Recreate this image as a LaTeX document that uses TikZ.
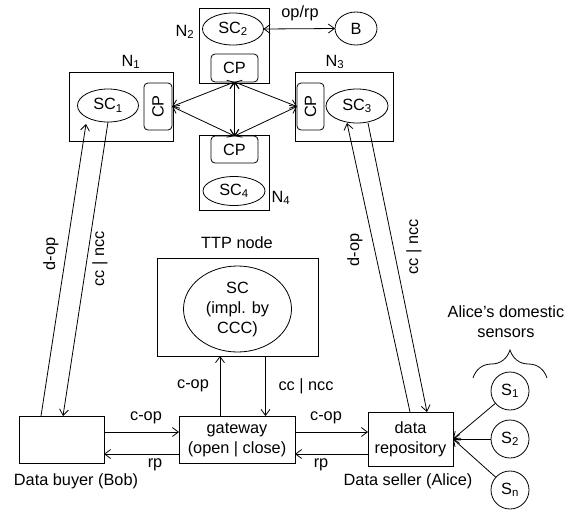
\documentclass[tikz,border=0pt]{standalone}
\usepackage{fontspec}
\setmainfont{Liberation Sans}
\usepackage{graphicx}
\usetikzlibrary{shapes.geometric,arrows.meta,decorations.pathreplacing}
\tikzset{
  base/.style={inner sep=0pt, outer sep=0pt, font=\fontsize{16.3}{20}\selectfont},
  box/.style={base, draw, rectangle},
  ell/.style={base, draw, ellipse},
  cpbox/.style={base, draw, rectangle, rounded corners=4pt},
  txt/.style={base},
  circ/.style={base, draw, circle, minimum size=38pt},
  conn/.style={line width=0.8pt, -{Straight Barb[length=6pt,width=9pt]}},
  dconn/.style={line width=0.8pt, {Straight Barb[length=6pt,width=9pt]}-{Straight Barb[length=6pt,width=9pt]}},
  plain/.style={line width=0.8pt},
}
\begin{document}
\begin{tikzpicture}[x=1pt,y=-1pt, line width=0.8pt]
\useasboundingbox (0,0) rectangle (579,515);
% blockchain nodes
\node[box, minimum width=104pt, minimum height=69pt] (N1) at (121,106.5) {};
\node[box, minimum width=70pt, minimum height=75pt] (N2) at (234,45.5) {};
\node[box, minimum width=98pt, minimum height=69pt] (N3) at (344,106.5) {};
\node[box, minimum width=70pt, minimum height=75pt] (N4) at (234,172.5) {};
\node[txt] (N1l) at (131,62) {N\textsubscript{1}};
\node[txt] (N2l) at (185,32) {N\textsubscript{2}};
\node[txt] (N3l) at (335,62) {N\textsubscript{3}};
\node[txt] (N4l) at (281,198) {N\textsubscript{4}};
\node[ell, minimum width=61pt, minimum height=33pt] (SC1) at (108,105.5) {SC\textsubscript{1}};
\node[ell, minimum width=61pt, minimum height=32pt] (SC2) at (233,29) {SC\textsubscript{2}};
\node[ell, minimum width=62pt, minimum height=34pt] (SC3) at (357,106) {SC\textsubscript{3}};
\node[ell, minimum width=62pt, minimum height=29pt] (SC4) at (234,191) {SC\textsubscript{4}};
\node[cpbox, minimum width=28pt, minimum height=47pt] (CP1) at (158,106.5) {\rotatebox{90}{CP}};
\node[cpbox, minimum width=47pt, minimum height=28pt] (CP2) at (234.5,68) {CP};
\node[cpbox, minimum width=27pt, minimum height=47pt] (CP3) at (310.5,106.5) {\rotatebox{90}{CP}};
\node[cpbox, minimum width=47pt, minimum height=27pt] (CP4) at (234.5,149.5) {CP};
\node[ell, minimum width=42pt, minimum height=33pt] (B) at (356,28.5) {B};
\draw[dconn] (SC2.east) -- (B.west);
\node[txt] (oprp) at (300,13) {op/rp};
\draw[dconn] (CP2.south) -- (CP1.east);
\draw[dconn] (CP2.south) -- (CP3.west);
\draw[dconn] (CP2.south) -- (CP4.north);
\draw[dconn] (CP4.north) -- (CP1.east);
\draw[dconn] (CP4.north) -- (CP3.west);
% TTP
\node[txt] (TTPl) at (237,243) {TTP node};
\node[box, minimum width=161pt, minimum height=98pt] (TTP) at (237.5,307) {};
\node[ell, minimum width=108pt, minimum height=86pt, align=center] (SC) at (237.5,309) {SC\\(impl. by\\CCC)};
% bottom row
\node[box, minimum width=85pt, minimum height=47pt] (Bob) at (61.5,439.5) {};
\node[box, minimum width=116pt, minimum height=47pt, align=center] (gw) at (237,439.5) {gateway\\(open | close)};
\node[box, minimum width=85pt, minimum height=54pt, align=center] (repo) at (410.5,439) {data\\repository};
\node[txt] (Bobl) at (76,481) {Data buyer (Bob)};
\node[txt] (Alicel) at (408,481) {Data seller (Alice)};
\draw[conn] ([yshift=7.5pt]Bob.east) -- ([yshift=7.5pt]gw.west);
\draw[conn] ([yshift=-14.5pt]gw.west) -- ([yshift=-14.5pt]Bob.east);
\draw[conn] ([yshift=7.5pt]gw.east) -- ([yshift=7pt]repo.west);
\draw[conn] ([yshift=-15pt]repo.west) -- ([yshift=-14.5pt]gw.east);
\node[txt] (l1) at (146,418) {c-op};
\node[txt] (l2) at (155,465) {rp};
\node[txt] (l3) at (326,418) {c-op};
\node[txt] (l4) at (321,465) {rp};
\draw[conn] ([xshift=-17pt]gw.north) -- ([xshift=-17pt]gw.north |- TTP.south);
\draw[conn] ([xshift=28pt]TTP.south) -- ([xshift=28pt]TTP.south |- gw.north);
\node[txt] (l5) at (193,386) {c-op};
\node[txt] (l6) at (306,386) {cc | ncc};
% diagonals
\draw[conn] ([xshift=-20.5pt]Bob.north) -- ([xshift=-22pt,yshift=-2pt]SC1.south);
\draw[conn] (SC1.south) -- ([xshift=1.5pt]Bob.north);
\draw[conn] ([xshift=-0.5pt]repo.north) -- ([xshift=-10pt]SC3.south);
\draw[conn] ([xshift=11pt]SC3.south) -- ([xshift=16.5pt]repo.north);
\node[txt, rotate=90] (l7) at (51,254) {d-op};
\node[txt, rotate=90] (l8) at (100,259) {cc | ncc};
\node[txt, rotate=90] (l9) at (355,250) {d-op};
\node[txt, rotate=90] (l10) at (414,247) {cc | ncc};
% sensors
\node[txt, align=center] (sens) at (506,322) {Alice’s domestic\\sensors};
\draw[plain, decorate, decoration={brace, amplitude=28pt}] (473,378) -- (547,378);
\node[circ] (S1) at (510,391) {S\textsubscript{1}};
\node[circ] (S2) at (510,439) {S\textsubscript{2}};
\node[circ] (Sn) at (510,490) {S\textsubscript{n}};
\draw[conn] (S1) -- (repo.east);
\draw[conn] (S2) -- (repo.east);
\draw[conn] (Sn) -- (repo.east);
\end{tikzpicture}
\end{document}
